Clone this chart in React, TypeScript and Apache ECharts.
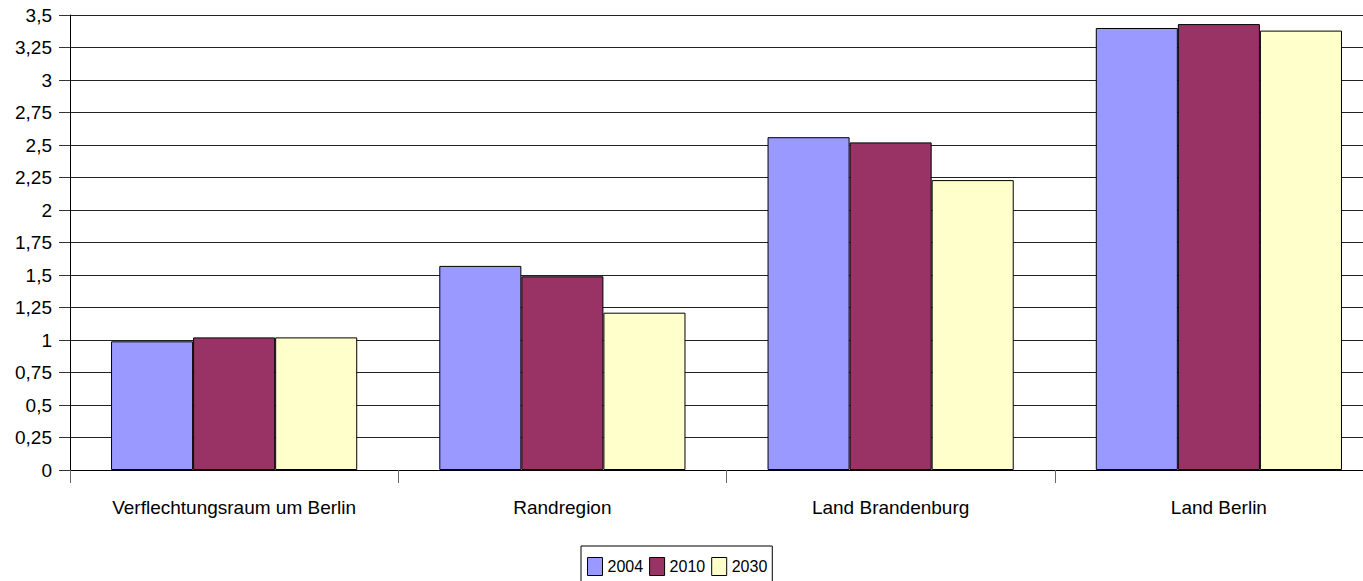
import React, { useEffect, useRef } from "react";
import * as echarts from "echarts";

const categories = ["Verflechtungsraum um Berlin", "Randregion", "Land Brandenburg", "Land Berlin"];
const seriesNames = ["2004", "2010", "2030"];
const values2004 = [0.99, 1.57, 2.56, 3.4];
const values2010 = [1.02, 1.49, 2.52, 3.43];
const values2030 = [1.02, 1.21, 2.23, 3.38];
const colors = ["#9999FF", "#993366", "#FFFFCC"];

const FONT = "'Liberation Sans', Arial, Helvetica, sans-serif";

export default function App() {
  const ref = useRef<HTMLDivElement>(null);
  useEffect(() => {
    if (!ref.current) return;
    const chart = echarts.init(ref.current, null, { renderer: "svg" });
    const allValues = [values2004, values2010, values2030];
    chart.setOption({
      animation: false,
      backgroundColor: "#ffffff",
      textStyle: { fontFamily: FONT },
      grid: {
        left: 70,
        top: 15,
        bottom: 111,
        right: -20,
        containLabel: false,
        outerBoundsMode: "none",
      },
      legend: {
        data: seriesNames,
        left: 581,
        top: 546,
        orient: "horizontal",
        icon: "rect",
        itemWidth: 15,
        itemHeight: 18,
        itemGap: 6,
        padding: [11, 5, 11, 6],
        borderColor: "#000",
        borderWidth: 1,
        textStyle: { fontSize: 16, color: "#000", fontFamily: FONT },
        itemStyle: { borderColor: "#000", borderWidth: 1 },
      },
      xAxis: {
        type: "category",
        data: categories,
        axisLine: { show: true, lineStyle: { color: "#000", width: 1 } },
        axisTick: { show: true, length: 13, lineStyle: { color: "#666" } },
        axisLabel: { fontSize: 19, color: "#000", margin: 28, fontFamily: FONT },
        splitLine: { show: false },
      },
      yAxis: {
        type: "value",
        min: 0,
        max: 3.5,
        interval: 0.25,
        axisLine: { show: true, lineStyle: { color: "#000", width: 1 } },
        axisTick: { show: true, length: 11, lineStyle: { color: "#333" } },
        axisLabel: {
          fontSize: 19,
          color: "#000",
          margin: 18,
          fontFamily: FONT,
          formatter: (v: number) => String(v).replace(".", ","),
        },
        splitLine: { show: true, lineStyle: { color: "#222", width: 1 } },
      },
      series: seriesNames.map((name, i) => ({
        name,
        type: "bar",
        data: allValues[i],
        barGap: "0%",
        barCategoryGap: "25%",
        itemStyle: { color: colors[i], borderColor: "#000", borderWidth: 1 },
      })),
    });
    return () => chart.dispose();
  }, []);
  return (
    <div
      ref={ref}
      style={{ position: "absolute", left: 0, top: 0, width: 1363, height: 581 }}
    />
  );
}
